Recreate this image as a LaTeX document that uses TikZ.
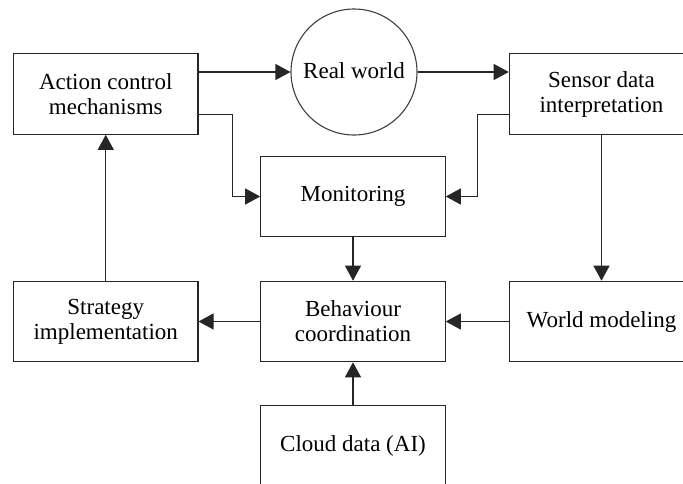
\documentclass[tikz,border=0pt]{standalone}
\usepackage{fontspec}
\setmainfont{Liberation Serif}
\usetikzlibrary{arrows.meta}
\begin{document}
\begin{tikzpicture}[x=1pt,y=-1pt,
  box/.style={draw=black!85,line width=1.1pt,minimum width=184.5pt,minimum height=80.5pt,inner sep=0pt,align=center,
    font=\fontsize{23}{25}\selectfont},
  round/.style={draw=black!75,line width=1.1pt,circle,minimum size=126pt,inner sep=0pt,align=center,
    font=\fontsize{23}{25}\selectfont},
  arr/.style={draw=black!85,line width=1.1pt,-{Triangle[length=15pt,width=16pt]}}]
\useasboundingbox (0,0) rectangle (683,483);
\clip (0,0) rectangle (683,483);
\node[box] (act) at (105.75,94) {Action control\\mechanisms};
\node[round] (rw) at (354,72) {\raisebox{2pt}{Real world}};
\node[box] (sens) at (601.5,94) {Sensor data\\interpretation};
\node[box] (mon) at (353,196.5) {Monitoring};
\node[box] (strat) at (105.75,321.5) {Strategy\\implementation};
\node[box] (beh) at (353,321.5) {Behaviour\\coordination};
\node[box] (world) at (601.5,321.5) {World modeling};
\node[box] (cloud) at (353,446) {Cloud data (AI)};
\coordinate (a1) at ([yshift=20.5pt]act.south east);
\coordinate (s1) at ([yshift=20.5pt]sens.south west);
\draw[arr] (act.east |- rw.west) -- (rw.west);
\draw[arr] (rw.east) -- (sens.west |- rw.east);
\draw[arr] (a1) -- ++(33.5,0) |- (mon.west);
\draw[arr] (s1) -- ++(-31,0) |- (mon.east);
\draw[arr] (sens.south) -- (world.north);
\draw[arr] (mon.south) -- (beh.north);
\draw[arr] (beh.west) -- (strat.east);
\draw[arr] (world.west) -- (beh.east);
\draw[arr] (cloud.north) -- (beh.south);
\draw[arr] (strat.north) -- (act.south);
\end{tikzpicture}
\end{document}
